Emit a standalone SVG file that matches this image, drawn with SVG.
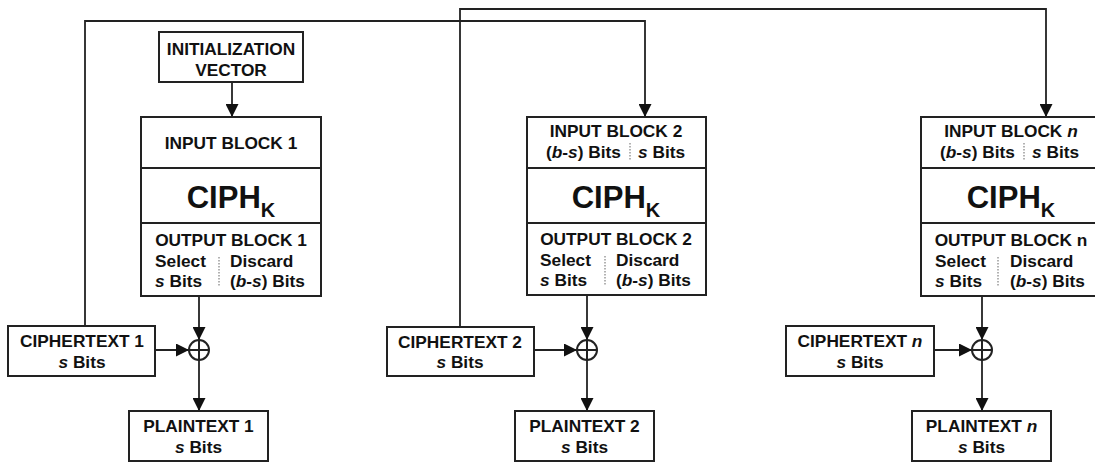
<svg xmlns="http://www.w3.org/2000/svg" width="1095" height="462" viewBox="0 0 1095 462">
<style>
.box{fill:#fff;stroke:#222;stroke-width:2}
.div{fill:none;stroke:#222;stroke-width:2}
.dot{fill:none;stroke:#999;stroke-width:1.5;stroke-dasharray:1.5 1.5}
.con{fill:none;stroke:#222;stroke-width:1.8}
.t{font-family:"Liberation Sans",Arial,sans-serif;font-weight:bold;font-size:17.3px;fill:#111}
.c{text-anchor:middle}
.big{font-family:"Liberation Sans",Arial,sans-serif;font-weight:bold;font-size:31px;fill:#111;text-anchor:middle}
.sub{font-size:20px}
.xor{fill:#fff;stroke:#222;stroke-width:2}
</style>
<defs>
<marker id="ah" markerUnits="userSpaceOnUse" markerWidth="13" markerHeight="13" refX="13" refY="6.5" orient="auto">
<path d="M0,0 L13,6.5 L0,13 z" fill="#111"/>
</marker>
</defs>

<g id="connectors">
<path class="con" d="M232,82 V117" marker-end="url(#ah)"/>
<path class="con" d="M85,326 V21 H645 V117" marker-end="url(#ah)"/>
<path class="con" d="M460,327 V9 H1046 V117" marker-end="url(#ah)"/>
<path class="con" d="M199,296 V340" marker-end="url(#ah)"/>
<path class="con" d="M155,350 H189" marker-end="url(#ah)"/>
<path class="con" d="M199,360 V411" marker-end="url(#ah)"/>
<path class="con" d="M587,295 V340" marker-end="url(#ah)"/>
<path class="con" d="M534,350 H577" marker-end="url(#ah)"/>
<path class="con" d="M587,360 V411" marker-end="url(#ah)"/>
<path class="con" d="M982,296 V340" marker-end="url(#ah)"/>
<path class="con" d="M934,350 H972" marker-end="url(#ah)"/>
<path class="con" d="M982,360 V411" marker-end="url(#ah)"/>
</g>

<g id="iv">
<rect class="box" x="159" y="32" width="144" height="50"/>
<text class="t c" x="231" y="55">INITIALIZATION</text>
<text class="t c" x="231" y="76">VECTOR</text>
</g>

<g id="block1">
<rect class="box" x="141" y="117" width="180" height="179"/>
<path class="div" d="M141,168 H321 M141,223 H321"/>
<text class="t c" x="231" y="149">INPUT BLOCK 1</text>
<text class="big" x="231" y="208">CIPH<tspan class="sub" dy="9">K</tspan></text>
<text class="t c" x="231" y="246">OUTPUT BLOCK 1</text>
<text class="t" x="155" y="266.5">Select</text>
<text class="t" x="155" y="287"><tspan font-style="italic">s</tspan> Bits</text>
<text class="t" x="230" y="266.5">Discard</text>
<text class="t" x="230" y="287">(<tspan font-style="italic">b</tspan>-<tspan font-style="italic">s</tspan>) Bits</text>
<path class="dot" d="M219,257 V286"/>
</g>

<g id="block2">
<rect class="box" x="527" y="117" width="179" height="178"/>
<path class="div" d="M527,168 H706 M527,223 H706"/>
<text class="t c" x="616" y="137">INPUT BLOCK 2</text>
<text class="t" x="546" y="158">(<tspan font-style="italic">b</tspan>-<tspan font-style="italic">s</tspan>) Bits</text>
<text class="t" x="638" y="158"><tspan font-style="italic">s</tspan> Bits</text>
<path class="dot" d="M630,143 V160"/>
<text class="big" x="616" y="208">CIPH<tspan class="sub" dy="9">K</tspan></text>
<text class="t c" x="616" y="245">OUTPUT BLOCK 2</text>
<text class="t" x="540" y="265.5">Select</text>
<text class="t" x="540" y="286"><tspan font-style="italic">s</tspan> Bits</text>
<text class="t" x="616" y="265.5">Discard</text>
<text class="t" x="616" y="286">(<tspan font-style="italic">b</tspan>-<tspan font-style="italic">s</tspan>) Bits</text>
<path class="dot" d="M605,256 V285"/>
</g>

<g id="blockn">
<rect class="box" x="921" y="117" width="180" height="179"/>
<path class="div" d="M921,168 H1101 M921,223 H1101"/>
<text class="t c" x="1011" y="137">INPUT BLOCK <tspan font-style="italic">n</tspan></text>
<text class="t" x="940" y="158">(<tspan font-style="italic">b</tspan>-<tspan font-style="italic">s</tspan>) Bits</text>
<text class="t" x="1032" y="158"><tspan font-style="italic">s</tspan> Bits</text>
<path class="dot" d="M1024,143 V160"/>
<text class="big" x="1011" y="208">CIPH<tspan class="sub" dy="9">K</tspan></text>
<text class="t c" x="1011" y="246">OUTPUT BLOCK n</text>
<text class="t" x="935" y="266.5">Select</text>
<text class="t" x="935" y="287"><tspan font-style="italic">s</tspan> Bits</text>
<text class="t" x="1010" y="266.5">Discard</text>
<text class="t" x="1010" y="287">(<tspan font-style="italic">b</tspan>-<tspan font-style="italic">s</tspan>) Bits</text>
<path class="dot" d="M998,257 V286"/>
</g>

<g id="ct1">
<rect class="box" x="8" y="326" width="147" height="50"/>
<text class="t c" x="82" y="347">CIPHERTEXT 1</text>
<text class="t c" x="82" y="367.5"><tspan font-style="italic">s</tspan> Bits</text>
</g>
<g id="ct2">
<rect class="box" x="387" y="327" width="147" height="49"/>
<text class="t c" x="460" y="347.5">CIPHERTEXT 2</text>
<text class="t c" x="460" y="368"><tspan font-style="italic">s</tspan> Bits</text>
</g>
<g id="ctn">
<rect class="box" x="786" y="326" width="148" height="50"/>
<text class="t c" x="860" y="347">CIPHERTEXT <tspan font-style="italic">n</tspan></text>
<text class="t c" x="860" y="367.5"><tspan font-style="italic">s</tspan> Bits</text>
</g>

<g id="xor1">
<circle class="xor" cx="199" cy="350" r="10"/>
<path class="div" d="M189,350 H209 M199,340 V360"/>
</g>
<g id="xor2">
<circle class="xor" cx="587" cy="350" r="10"/>
<path class="div" d="M577,350 H597 M587,340 V360"/>
</g>
<g id="xorn">
<circle class="xor" cx="982" cy="350" r="10"/>
<path class="div" d="M972,350 H992 M982,340 V360"/>
</g>

<g id="pt1">
<rect class="box" x="129" y="411" width="139" height="50"/>
<text class="t c" x="198.5" y="432">PLAINTEXT 1</text>
<text class="t c" x="198.5" y="452.5"><tspan font-style="italic">s</tspan> Bits</text>
</g>
<g id="pt2">
<rect class="box" x="515" y="411" width="139" height="50"/>
<text class="t c" x="584.5" y="432">PLAINTEXT 2</text>
<text class="t c" x="584.5" y="452.5"><tspan font-style="italic">s</tspan> Bits</text>
</g>
<g id="ptn">
<rect class="box" x="912" y="411" width="139" height="50"/>
<text class="t c" x="981.5" y="432">PLAINTEXT <tspan font-style="italic">n</tspan></text>
<text class="t c" x="981.5" y="452.5"><tspan font-style="italic">s</tspan> Bits</text>
</g>
</svg>
